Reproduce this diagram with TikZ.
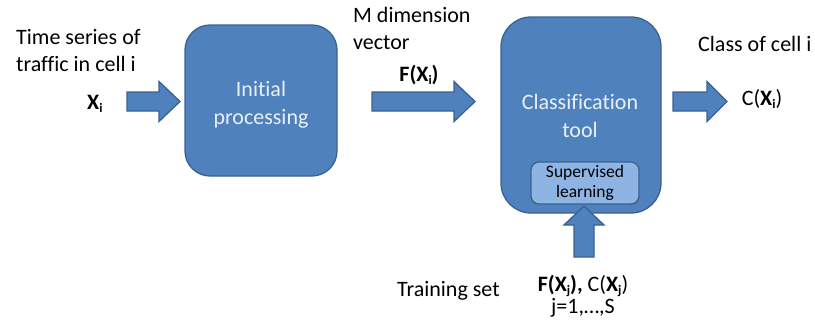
\documentclass[tikz,border=0pt]{standalone}
\usepackage{fontspec}
\setmainfont[Ligatures=NoCommon]{Carlito}
\definecolor{boxblue}{HTML}{4F81BD}
\definecolor{edgeblue}{HTML}{3A6194}
\definecolor{lightblue}{HTML}{8EB4E3}
\colorlet{boxtext}{white!88!boxblue}
\newcommand\mysub[1]{\raisebox{-3.5pt}{\fontsize{13}{13}\selectfont #1}}
\newcommand\harrowpath[3]{% #1 start coordinate, #2 head start offset, #3 tip offset
  \draw[barrow, shift={(#1)}] (0,-9.5) -- (#2,-9.5) -- (#2,-20) -- (#3,0) -- (#2,20) -- (#2,9.5) -- (0,9.5) -- cycle;}
\begin{document}
\begin{tikzpicture}[x=1pt,y=-1pt,
  bigbox/.style={draw=edgeblue, fill=boxblue, line width=1.3pt, inner sep=0pt},
  barrow/.style={draw=edgeblue, fill=boxblue, line width=1.3pt, line join=miter},
  lbl/.style={font=\fontsize{22}{27}\selectfont, inner sep=0pt},
  intext/.style={font=\fontsize{22}{28}\selectfont, text=boxtext, align=center, inner sep=0pt},
  small/.style={font=\fontsize{17.5}{20.5}\selectfont, align=center, inner sep=0pt}]
\useasboundingbox (0,0) rectangle (815,322);

% boxes
\node[bigbox, rounded corners=25pt, minimum width=152pt, minimum height=151pt] (init) at (261,100.5) {};
\node[intext, anchor=base] (inittxt) at (261,124) {Initial\\processing};
\node[bigbox, rounded corners=30pt, minimum width=160pt, minimum height=196pt] (cls) at (581,115) {};
\node[intext, anchor=base] (clstxt) at (580,137) {Classification\\tool};
\node[draw=edgeblue, fill=lightblue, line width=1.3pt, rounded corners=8pt,
      minimum width=108pt, minimum height=42pt, small] (sup) at (585,183) {Supervised\\learning};

% arrows (connectors as block arrows)
\coordinate (a1) at (127,101.5);
\harrowpath{a1}{32}{53}
\coordinate (a2) at (372,101.5);
\harrowpath{a2}{82}{103}
\coordinate (a3) at (673,101.5);
\harrowpath{a3}{34}{54}
\coordinate (a4) at (584,257);
\draw[barrow, shift={(a4)}] (-10,0) -- (-10,-32) -- (-20,-32) -- (0,-51) -- (20,-32) -- (10,-32) -- (10,0) -- cycle;

% labels
\node[lbl, anchor=base west] (t1) at (16,44) {Time series of};
\node[lbl, anchor=base west] (t2) at (16,71) {traffic in cell i};
\node[lbl, anchor=base west] (xi) at (87,109) {\textbf{X\mysub{i}}};
\node[lbl, anchor=base west] (m1) at (353,22) {M dimension};
\node[lbl, anchor=base west] (m2) at (353,49) {vector};
\node[lbl, anchor=base] (fxi) at (419,81) {\textbf{F(X\mysub{i})}};
\node[lbl, anchor=base west] (c1) at (698,51) {Class of cell i};
\node[lbl, anchor=base] (cxi) at (762,105) {C(\textbf{X\mysub{i}})};
\node[lbl, anchor=base west] (ts) at (397,296) {Training set};
\node[lbl, anchor=base] (fxj) at (583,291) {\textbf{F(X\mysub{j}),} C(\textbf{X\mysub{j}})};
\node[lbl, anchor=base] (jr) at (583,313) {j=1,\dots,S};
\end{tikzpicture}
\end{document}
